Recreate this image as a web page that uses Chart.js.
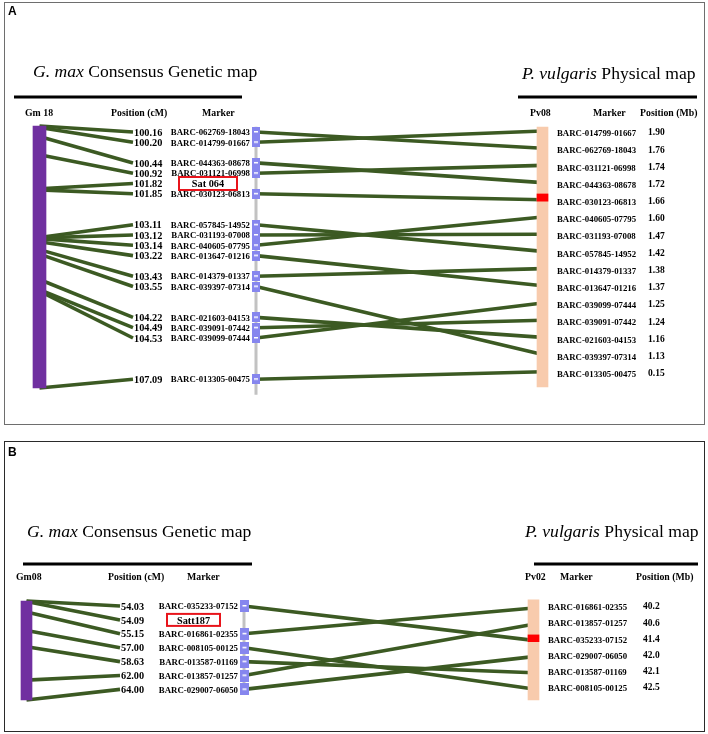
<!DOCTYPE html>
<html>
<head>
<meta charset="utf-8">
<script src="https://cdn.jsdelivr.net/npm/chart.js@4.4.1/dist/chart.umd.min.js"></script>
<style>
	body { margin: 0; background: #fff; width: 708px; height: 734px; position: relative; overflow: hidden; }
	.panel { position: absolute; left: 4px; width: 701px; box-sizing: border-box; }
	#boxA { top: 2px; height: 423px; border: 1.5px solid #6e6e6e; }
	#boxB { top: 441px; height: 291px; border: 1.5px solid #2a2a2a; }
	canvas { position: absolute; left: 0; }
</style>
</head>
<body>
<div class="panel" id="boxA"></div>
<div class="panel" id="boxB"></div>
<canvas id="chartA" width="708" height="432" style="top:0px"></canvas>
<canvas id="chartB" width="708" height="302" style="top:432px"></canvas>
<script>
// Panel A: G. max Gm 18 (genetic, cM) vs P. vulgaris Pv08 (physical, Mb)
var gmA_pos = [100.16, 100.20, 100.44, 100.92, 101.82, 101.85, 103.11, 103.12, 103.14, 103.22, 103.43, 103.55, 104.22, 104.49, 104.53, 107.09]
var gmA_marker = ["BARC-062769-18043", "BARC-014799-01667", "BARC-044363-08678", "BARC-031121-06998", "Sat 064", "BARC-030123-06813",
	"BARC-057845-14952", "BARC-031193-07008", "BARC-040605-07795", "BARC-013647-01216", "BARC-014379-01337", "BARC-039397-07314",
	"BARC-021603-04153", "BARC-039091-07442", "BARC-039099-07444", "BARC-013305-00475"]
var gmA_row = [0, 1, 3, 4, 5, 6, 9, 10, 11, 12, 14, 15, 18, 19, 20, 24]
var pvA_marker = ["BARC-014799-01667", "BARC-062769-18043", "BARC-031121-06998", "BARC-044363-08678", "BARC-030123-06813",
	"BARC-040605-07795", "BARC-031193-07008", "BARC-057845-14952", "BARC-014379-01337", "BARC-013647-01216",
	"BARC-039099-07444", "BARC-039091-07442", "BARC-021603-04153", "BARC-039397-07314", "BARC-013305-00475"]
var pvA_pos = [1.90, 1.76, 1.74, 1.72, 1.66, 1.60, 1.47, 1.42, 1.38, 1.37, 1.25, 1.24, 1.16, 1.13, 0.15]

// Panel B: G. max Gm08 vs P. vulgaris Pv02
var gmB_pos = [54.03, 54.09, 55.15, 57.00, 58.63, 62.00, 64.00]
var gmB_marker = ["BARC-035233-07152", "Satt187", "BARC-016861-02355", "BARC-008105-00125", "BARC-013587-01169", "BARC-013857-01257", "BARC-029007-06050"]
var gmB_row = [0, 1, 2, 3, 4, 5, 6]
var pvB_marker = ["BARC-016861-02355", "BARC-013857-01257", "BARC-035233-07152", "BARC-029007-06050", "BARC-013587-01169", "BARC-008105-00125"]
var pvB_pos = [40.2, 40.6, 41.4, 42.0, 42.1, 42.5]

var SERIF = '"Liberation Serif", "Times New Roman", serif'

var boxImage = (w, h) => {
	var c = document.createElement("canvas")
	c.width = w
	c.height = h
	var g = c.getContext("2d")
	g.fillStyle = "#8686ee"
	g.fillRect(0, 0, w, h)
	g.fillStyle = "#ffffff"
	g.fillRect(Math.round(w / 2) - 2, Math.round(h / 2) - 1, 4, 1.5)
	return c
}

var makePanel = (id, d, L) => {
	var H = L.H
	var cy = (p) => p - L.dy
	// linear y scale whose values v1/v2 land on page pixels p1/p2
	var fit = (v1, p1, v2, p2) => {
		var k = (v2 - v1) / (cy(p2) - cy(p1))
		return { type: "linear", display: false, reverse: true, min: v1 - cy(p1) * k, max: v1 + (H - cy(p1)) * k }
	}
	var gmMin = Math.min(...d.gmPos)
	var gmMax = Math.max(...d.gmPos)
	var n = d.pvMarker.length
	var links = []
	d.gmMarker.forEach((m, i) => {
		var r = d.pvMarker.indexOf(m)
		if (r >= 0) links.push({ row: d.gmRow[i], rank: r })
	})
	var hi = d.pvMarker.indexOf(d.highlight)
	var gmX = (L.gmBar[0] + L.gmBar[1]) / 2
	var pvX = (L.pvBar[0] + L.pvBar[1]) / 2

	var title = (ctx, it, rest, x, y) => {
		ctx.textAlign = "left"
		ctx.textBaseline = "alphabetic"
		ctx.font = "italic " + L.titleSize + "px " + SERIF
		ctx.fillText(it, x, y)
		var w = ctx.measureText(it).width
		ctx.font = L.titleSize + "px " + SERIF
		ctx.fillText(rest, x + w, y)
	}

	new Chart(document.getElementById(id), {
		type: "bar",
		data: {
			datasets: [
				{
					// closest shared marker to the SSR, drawn on top of the physical map
					type: "bar", yAxisID: "yPv", grouped: false,
					data: [{ x: pvX, y: [hi - 0.34, hi + 0.08] }],
					barThickness: L.pvBar[1] - L.pvBar[0],
					backgroundColor: "#ff0000"
				},
				{
					type: "bar", yAxisID: "yGm", grouped: false,
					data: [{ x: gmX, y: [gmMin, gmMax] }],
					barThickness: L.gmBar[1] - L.gmBar[0],
					backgroundColor: "#7030a0"
				},
				{
					type: "bar", yAxisID: "yPv", grouped: false,
					data: [{ x: pvX, y: [-L.pvPad[0], n - 1 + L.pvPad[1]] }],
					barThickness: L.pvBar[1] - L.pvBar[0],
					backgroundColor: "#f8cbad"
				},
				{
					type: "line", yAxisID: "yRow", showLine: false,
					data: links.map((l) => ({ x: L.boxX, y: l.row })),
					pointStyle: boxImage(L.box[0], L.box[1]),
					pointRadius: 4
				}
			]
		},
		options: {
			responsive: false,
			animation: false,
			events: [],
			layout: { padding: 0, autoPadding: false },
			plugins: { legend: { display: false }, tooltip: { enabled: false } },
			scales: {
				x: { type: "linear", display: false, min: 0, max: 708, offset: false },
				yGm: fit(gmMin, L.gmBar[2], gmMax, L.gmBar[3]),
				yRow: fit(0, L.row[0], 1, L.row[0] + L.row[1]),
				yPv: fit(0, L.pvRow[0], 1, L.pvRow[0] + L.pvRow[1])
			}
		},
		plugins: [{
			id: "synteny",
			beforeDatasetsDraw: (chart) => {
				var ctx = chart.ctx
				var s = chart.scales
				var X = (v) => s.x.getPixelForValue(v)
				ctx.save()
				// grey backbone behind the marker boxes
				ctx.strokeStyle = "#c2c2c2"
				ctx.lineWidth = 3
				ctx.beginPath()
				ctx.moveTo(X(L.boxX), s.yRow.getPixelForValue(L.spine[0]))
				ctx.lineTo(X(L.boxX), s.yRow.getPixelForValue(L.spine[1]))
				ctx.stroke()
				ctx.strokeStyle = "#3c5a23"
				ctx.lineWidth = 3.6
				// chromosome -> position labels
				d.gmPos.forEach((p, i) => {
					ctx.beginPath()
					ctx.moveTo(X(gmX), s.yGm.getPixelForValue(p))
					ctx.lineTo(X(L.linkEnd), s.yRow.getPixelForValue(d.gmRow[i]))
					ctx.stroke()
				})
				// shared markers -> physical map
				links.forEach((l) => {
					ctx.beginPath()
					ctx.moveTo(X(L.boxX), s.yRow.getPixelForValue(l.row))
					ctx.lineTo(X(pvX), s.yPv.getPixelForValue(l.rank))
					ctx.stroke()
				})
				ctx.restore()
			},
			afterDatasetsDraw: (chart) => {
				var ctx = chart.ctx
				var s = chart.scales
				var X = (v) => s.x.getPixelForValue(v)
				ctx.save()
				ctx.fillStyle = "#000"
				ctx.font = "bold 12px \"Liberation Sans\", Arial, sans-serif"
				ctx.textBaseline = "middle"
				ctx.fillText(L.letter, L.letterPos[0], cy(L.letterPos[1]))

				title(ctx, "G. max", " Consensus Genetic map", L.titleL[0], cy(L.titleL[1]))
				title(ctx, "P. vulgaris", " Physical map", L.titleR[0], cy(L.titleR[1]))

				ctx.fillRect(L.ruleL[0], cy(L.ruleL[2]) - 1.5, L.ruleL[1] - L.ruleL[0], 3)
				ctx.fillRect(L.ruleR[0], cy(L.ruleR[2]) - 1.5, L.ruleR[1] - L.ruleR[0], 3)

				ctx.textBaseline = "middle"
				ctx.textAlign = "left"
				ctx.font = "bold 9.8px " + SERIF
				L.headsL.forEach((h) => ctx.fillText(h[0], h[1], cy(L.headY[0])))
				L.headsR.forEach((h) => ctx.fillText(h[0], h[1], cy(L.headY[1])))

				d.gmPos.forEach((p, i) => {
					var y = s.yRow.getPixelForValue(d.gmRow[i])
					ctx.textAlign = "left"
					ctx.font = "bold 10.3px " + SERIF
					ctx.fillText(p.toFixed(2), X(L.numX), y + 1)
					if (d.gmMarker[i] === d.ssr) {
						ctx.strokeStyle = "#e8141b"
						ctx.lineWidth = 2
						ctx.strokeRect(L.ssr[0], y - L.ssr[2] / 2, L.ssr[1] - L.ssr[0], L.ssr[2])
						ctx.textAlign = "center"
						ctx.font = "bold 10.3px " + SERIF
						ctx.fillText(d.ssr, (L.ssr[0] + L.ssr[1]) / 2, y + 1)
					} else {
						ctx.textAlign = "right"
						ctx.font = "bold 8.8px " + SERIF
						ctx.fillText(d.gmMarker[i], X(L.markerRight), y + 1)
					}
				})

				d.pvMarker.forEach((m, r) => {
					var y = s.yPv.getPixelForValue(r) + L.pvTextDy
					ctx.textAlign = "left"
					ctx.font = "bold 8.8px " + SERIF
					ctx.fillText(m, X(L.pvMarkerX), y)
					ctx.font = "bold 9.5px " + SERIF
					ctx.fillText(d.pvPos[r].toFixed(d.pvDigits), X(L.pvPosX), y - 1)
				})
				ctx.restore()
			}
		}]
	})
}

makePanel("chartA",
	{ gmPos: gmA_pos, gmMarker: gmA_marker, gmRow: gmA_row, pvMarker: pvA_marker, pvPos: pvA_pos, pvDigits: 2,
		ssr: "Sat 064", highlight: "BARC-030123-06813" },
	{
		H: 432, dy: 0, letter: "A", letterPos: [8, 12], titleSize: 17.6,
		titleL: [33, 77], titleR: [522, 79], ruleL: [14, 242, 97], ruleR: [518, 697, 97],
		headY: [113, 113],
		headsL: [["Gm 18", 25], ["Position (cM)", 111], ["Marker", 202]],
		headsR: [["Pv08", 530], ["Marker", 593], ["Position (Mb)", 640]],
		gmBar: [33, 46, 126, 388], linkEnd: 133, numX: 134, markerRight: 250,
		boxX: 256, box: [8, 10], row: [132, 10.3], spine: [-0.5, 25.5],
		pvBar: [537, 548], pvPad: [0.23, 0.88], pvRow: [131, 17.2],
		pvMarkerX: 557, pvPosX: 648, pvTextDy: 3, ssr: [179, 237, 13]
	})

makePanel("chartB",
	{ gmPos: gmB_pos, gmMarker: gmB_marker, gmRow: gmB_row, pvMarker: pvB_marker, pvPos: pvB_pos, pvDigits: 1,
		ssr: "Satt187", highlight: "BARC-035233-07152" },
	{
		H: 302, dy: 432, letter: "B", letterPos: [8, 453], titleSize: 17.6,
		titleL: [27, 537], titleR: [525, 537], ruleL: [23, 252, 564], ruleR: [534, 698, 564],
		headY: [577, 577],
		headsL: [["Gm08", 16], ["Position (cM)", 108], ["Marker", 187]],
		headsR: [["Pv02", 525], ["Marker", 560], ["Position (Mb)", 636]],
		gmBar: [21, 32, 601, 700], linkEnd: 120, numX: 121, markerRight: 238,
		boxX: 244, box: [9, 12], row: [606, 13.9], spine: [-0.2, 6.4],
		pvBar: [528, 539], pvPad: [0.5, 0.68], pvRow: [608, 16.2],
		pvMarkerX: 548, pvPosX: 643, pvTextDy: 0, ssr: [167, 220, 12]
	})
</script>
</body>
</html>
